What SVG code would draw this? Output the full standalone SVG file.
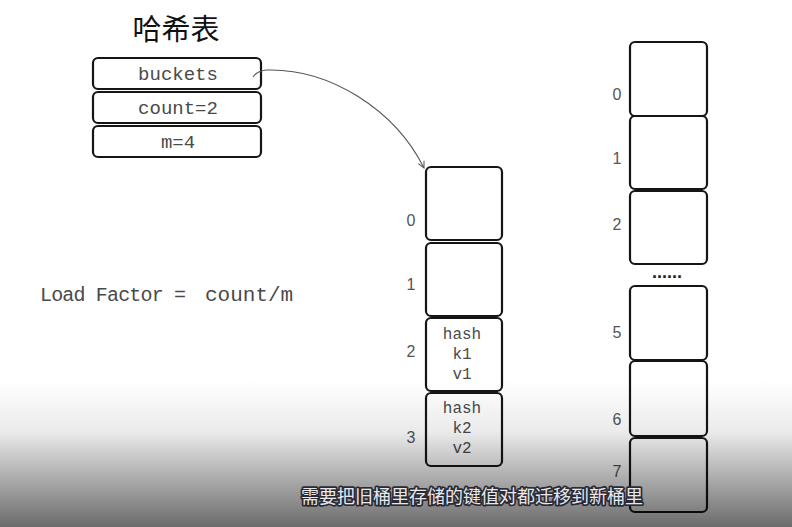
<svg xmlns="http://www.w3.org/2000/svg" width="792" height="527" viewBox="0 0 792 527">
<defs>
<style>
.box{fill:#fff;stroke:#151515;stroke-width:2.2}
.mono{font-family:"Liberation Mono","DejaVu Sans Mono",monospace;fill:#4a4a4a}
.lbl{font-family:"Liberation Sans","DejaVu Sans",sans-serif;fill:#555;font-size:16px;text-anchor:middle}
.cell{font-size:16px;text-anchor:middle}
.conn{fill:none;stroke:#555;stroke-width:1.1}
.sub{font-family:"Noto Sans CJK SC",sans-serif;font-size:18px;fill:#e8e8ec;stroke:#2a2a35;stroke-width:3.5;paint-order:stroke;stroke-linejoin:round}
</style>
<marker id="arr" viewBox="0 0 10 10" refX="9" refY="5" markerWidth="8" markerHeight="8" orient="auto-start-reverse" markerUnits="userSpaceOnUse">
<path d="M1,1 L9,5 L1,9" fill="none" stroke="#555" stroke-width="1.3"/>
</marker>
<linearGradient id="shade" x1="0" y1="0" x2="0" y2="1">
<stop offset="0" stop-color="#000" stop-opacity="0"/>
<stop offset="0.35" stop-color="#000" stop-opacity="0.08"/>
<stop offset="1" stop-color="#000" stop-opacity="0.58"/>
</linearGradient>
</defs>
<rect width="792" height="527" fill="#fff"/>

<g id="title">
<text x="176" y="40" font-family="'Noto Sans CJK SC',sans-serif" font-size="29" text-anchor="middle" fill="#111">哈希表</text>
</g>

<g id="hashtable">
<g id="f-buckets"><rect class="box" x="93" y="58" width="168" height="31" rx="5"/><text class="mono" x="178" y="80" font-size="19" text-anchor="middle">buckets</text></g>
<g id="f-count"><rect class="box" x="93" y="92" width="168" height="31" rx="5"/><text class="mono" x="178" y="114" font-size="19" text-anchor="middle">count=2</text></g>
<g id="f-m"><rect class="box" x="93" y="126" width="168" height="31" rx="5"/><text class="mono" x="178" y="148" font-size="19" text-anchor="middle">m=4</text></g>
</g>

<g id="formula">
<text class="mono" x="40" y="301" font-size="20" textLength="146" lengthAdjust="spacing">Load Factor =</text>
<text class="mono" x="205" y="301" font-size="21">count/m</text>
</g>

<g id="old-buckets">
<g id="ob0"><rect class="box" x="426" y="167" width="76" height="73" rx="5"/><text class="lbl" x="411" y="226">0</text></g>
<g id="ob1"><rect class="box" x="426" y="243" width="76" height="73" rx="5"/><text class="lbl" x="411" y="290">1</text></g>
<g id="ob2"><rect class="box" x="426" y="318" width="76" height="73" rx="5"/><text class="lbl" x="411" y="357">2</text>
<text class="mono cell" x="462" y="339">hash</text><text class="mono cell" x="462" y="359">k1</text><text class="mono cell" x="462" y="379">v1</text></g>
<g id="ob3"><rect class="box" x="426" y="393" width="76" height="73" rx="5"/><text class="lbl" x="411" y="443">3</text>
<text class="mono cell" x="462" y="413">hash</text><text class="mono cell" x="462" y="433">k2</text><text class="mono cell" x="462" y="453">v2</text></g>
</g>

<g id="new-buckets">
<g id="nb0"><rect class="box" x="630" y="42" width="77" height="74" rx="5"/><text class="lbl" x="617" y="100">0</text></g>
<g id="nb1"><rect class="box" x="630" y="116" width="77" height="73" rx="5"/><text class="lbl" x="617" y="164">1</text></g>
<g id="nb2"><rect class="box" x="630" y="191" width="77" height="73" rx="5"/><text class="lbl" x="617" y="230">2</text></g>
<text x="667" y="278" font-family="'Liberation Sans',sans-serif" font-size="18" font-weight="bold" text-anchor="middle" fill="#222">......</text>
<g id="nb5"><rect class="box" x="630" y="286" width="77" height="74" rx="5"/><text class="lbl" x="617" y="338">5</text></g>
<g id="nb6"><rect class="box" x="630" y="361" width="77" height="75" rx="5"/><text class="lbl" x="617" y="425">6</text></g>
<g id="nb7"><rect class="box" x="630" y="438" width="77" height="74" rx="5"/><text class="lbl" x="617" y="477">7</text></g>
</g>

<g id="connectors">
<path class="conn" d="M253,77 Q257,71 266,70 C330,68 395,110 424,168" marker-end="url(#arr)"/>
</g>

<rect x="0" y="380" width="792" height="147" fill="url(#shade)"/>
<g id="subtitle">
<text class="sub" x="472" y="503" text-anchor="middle">需要把旧桶里存储的键值对都迁移到新桶里</text>
</g>
</svg>
